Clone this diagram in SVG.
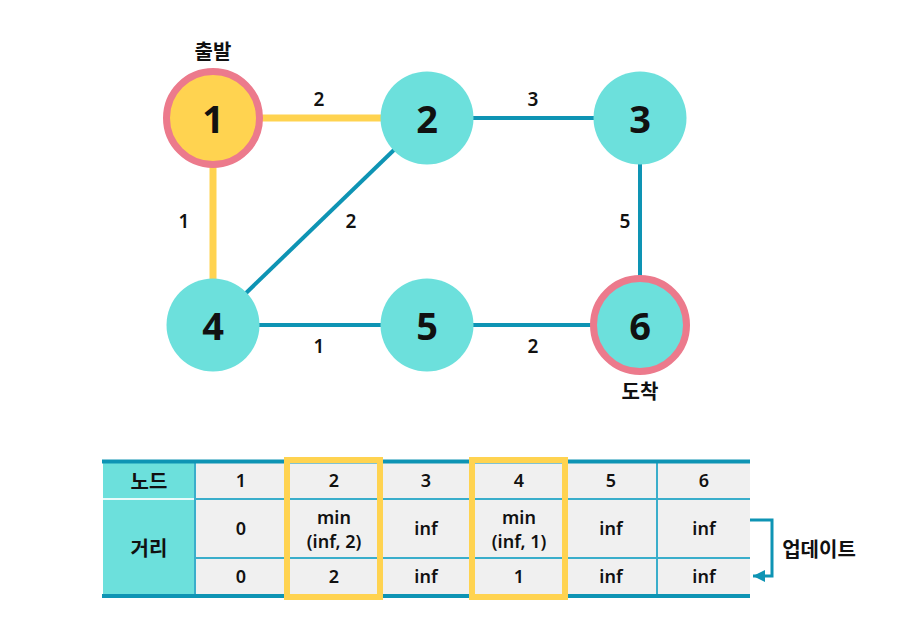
<svg xmlns="http://www.w3.org/2000/svg" width="911" height="638" viewBox="0 0 911 638">
<style>
.t{font-family:"Noto Sans","Noto Sans CJK KR",sans-serif;fill:#111;text-anchor:middle;dominant-baseline:central}
.n{font-size:38px;font-weight:700}
.e{font-size:19px;font-weight:600}
.k{font-size:20px;font-weight:700;font-family:"Noto Sans CJK KR","Noto Sans",sans-serif}
.c{font-size:18px;font-weight:600}
.teal{fill:#6ce0dc}
.blue{stroke:#0e94b4;stroke-width:4;fill:none}
.yel{stroke:#ffd350;stroke-width:7;fill:none}
.ring{fill:#ffd350;stroke:#ec7a8c;stroke-width:7}
</style>
<defs>
<marker id="ah" markerWidth="12" markerHeight="12" refX="12" refY="6" orient="auto" markerUnits="userSpaceOnUse" viewBox="0 0 12 12">
<path d="M0,0 L12,6 L0,12 Z" fill="#0e94b4"/>
</marker>
</defs>
<rect width="911" height="638" fill="#fff"/>
<g id="connectors">
<line class="yel" x1="213" y1="118" x2="427" y2="118"/>
<line class="yel" x1="213" y1="118" x2="213" y2="325"/>
<line class="blue" x1="427" y1="118" x2="640" y2="118"/>
<line class="blue" x1="427" y1="118" x2="213" y2="325"/>
<line class="blue" x1="640" y1="118" x2="640" y2="325"/>
<line class="blue" x1="213" y1="325" x2="640" y2="325"/>
<text class="t e" x="319" y="99">2</text>
<text class="t e" x="533" y="99">3</text>
<text class="t e" x="184" y="221">1</text>
<text class="t e" x="351" y="221">2</text>
<text class="t e" x="625" y="221">5</text>
<text class="t e" x="319" y="346">1</text>
<text class="t e" x="533" y="346">2</text>
</g>
<g id="node1">
<circle class="ring" cx="213" cy="118" r="46.5"/>
<text class="t n" x="213" y="118">1</text>
<text class="t k" x="213" y="50">출발</text>
</g>
<g id="node2">
<circle class="teal" cx="427" cy="118" r="46.5"/>
<text class="t n" x="427" y="118">2</text>
</g>
<g id="node3">
<circle class="teal" cx="640" cy="118" r="46.5"/>
<text class="t n" x="640" y="118">3</text>
</g>
<g id="node4">
<circle class="teal" cx="213" cy="325" r="46.5"/>
<text class="t n" x="213" y="325">4</text>
</g>
<g id="node5">
<circle class="teal" cx="427" cy="325" r="46.5"/>
<text class="t n" x="427" y="325">5</text>
</g>
<g id="node6">
<circle class="ring" cx="640" cy="325" r="46.5" style="fill:#6ce0dc"/>
<text class="t n" x="640" y="325">6</text>
<text class="t k" x="640" y="390">도착</text>
</g>
<g id="table">
<rect x="195" y="462" width="555" height="134" fill="#f0f0f0"/>
<rect x="103" y="462" width="92" height="134" fill="#6ce0dc"/>
<line x1="103" y1="499" x2="195" y2="499" stroke="#e8fbfa" stroke-width="2"/>
<g stroke="#3aaecb" stroke-width="2">
<line x1="195" y1="499" x2="750" y2="499"/>
<line x1="195" y1="558" x2="750" y2="558"/>
<line x1="195" y1="462" x2="195" y2="596"/>
<line x1="287" y1="462" x2="287" y2="596"/>
<line x1="380" y1="462" x2="380" y2="596"/>
<line x1="472" y1="462" x2="472" y2="596"/>
<line x1="565" y1="462" x2="565" y2="596"/>
<line x1="657" y1="462" x2="657" y2="596"/>
</g>
<line x1="102" y1="461.5" x2="750" y2="461.5" stroke="#0e94b4" stroke-width="4"/>
<line x1="102" y1="596" x2="750" y2="596" stroke="#0e94b4" stroke-width="4"/>
<text class="t k" x="149" y="480">노드</text>
<text class="t k" x="149" y="547">거리</text>
<text class="t c" x="241" y="480">1</text>
<text class="t c" x="334" y="480">2</text>
<text class="t c" x="426" y="480">3</text>
<text class="t c" x="519" y="480">4</text>
<text class="t c" x="611" y="480">5</text>
<text class="t c" x="704" y="480">6</text>
<text class="t c" x="241" y="528">0</text>
<text class="t c" x="334" y="517">min</text>
<text class="t c" x="334" y="541">(inf, 2)</text>
<text class="t c" x="426" y="528">inf</text>
<text class="t c" x="519" y="517">min</text>
<text class="t c" x="519" y="541">(inf, 1)</text>
<text class="t c" x="611" y="528">inf</text>
<text class="t c" x="704" y="528">inf</text>
<text class="t c" x="241" y="576">0</text>
<text class="t c" x="334" y="576">2</text>
<text class="t c" x="426" y="576">inf</text>
<text class="t c" x="519" y="576">1</text>
<text class="t c" x="611" y="576">inf</text>
<text class="t c" x="704" y="576">inf</text>
<rect x="287" y="460" width="93" height="137" fill="none" stroke="#ffd350" stroke-width="6"/>
<rect x="472" y="460" width="93" height="137" fill="none" stroke="#ffd350" stroke-width="6"/>
</g>
<g id="update">
<path d="M750,520 H772 V576 H753" fill="none" stroke="#0e94b4" stroke-width="3" marker-end="url(#ah)"/>
<text class="t k" x="819" y="548">업데이트</text>
</g>
</svg>
